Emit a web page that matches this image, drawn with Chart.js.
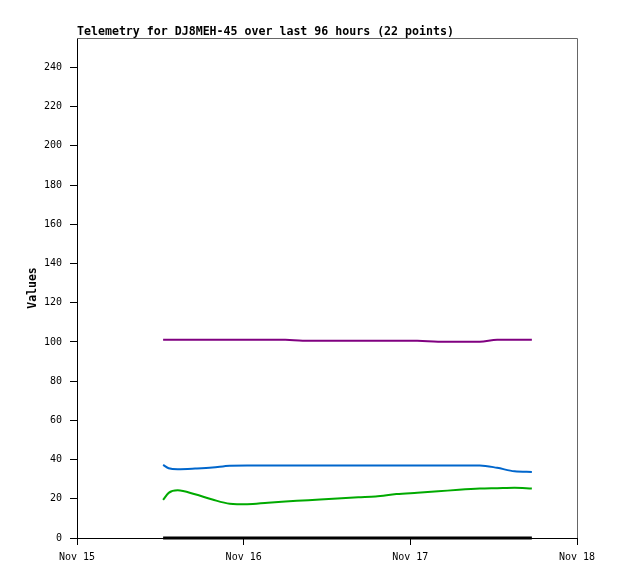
<!DOCTYPE html>
<html>
<head>
<meta charset="utf-8">
<script src="https://cdn.jsdelivr.net/npm/chart.js@4/dist/chart.umd.min.js"></script>
<style>
  html, body { margin: 0; padding: 0; background: #fff; }
  #wrap { width: 618px; height: 579px; }
</style>
</head>
<body>
<div id="wrap"><canvas id="telemetry"></canvas></div>
<script>
// hours since Nov 15 00:00
const hours = [12.4, 13.2, 14.5, 17.0, 19.5, 22.0, 24.5, 27.5, 30.0, 32.5, 35.0,
               37.5, 40.5, 43.0, 46.0, 49.0, 52.0, 55.0, 58.0, 60.5, 63.0, 65.5];

const purpleVals = [101.1, 101.1, 101.1, 101.1, 101.1, 101.1, 101.1, 101.1, 101.1, 100.6, 100.6,
                    100.6, 100.6, 100.6, 100.6, 100.6, 100.1, 100.1, 100.1, 101.1, 101.1, 101.1];
const blueVals   = [37.3, 35.6, 35.1, 35.4, 35.9, 36.9, 37.0, 37.0, 37.0, 37.0, 37.0,
                    37.0, 37.0, 37.0, 37.0, 37.0, 37.0, 37.0, 37.0, 35.8, 34.0, 33.7];
const greenVals  = [19.4, 23.0, 24.3, 22.3, 19.6, 17.5, 17.2, 18.0, 18.6, 19.1, 19.6,
                    20.2, 20.8, 21.2, 22.4, 23.1, 23.8, 24.6, 25.2, 25.4, 25.6, 25.2];
const blackVals  = [0, 0, 0, 0, 0, 0, 0, 0, 0, 0, 0,
                    0, 0, 0, 0, 0, 0, 0, 0, 0, 0, 0];

const xTicks = [0, 24, 48, 72];
const xTickLabels = ['Nov 15', 'Nov 16', 'Nov 17', 'Nov 18'];
const yTicks = [0, 20, 40, 60, 80, 100, 120, 140, 160, 180, 200, 220, 240];

const titleText = 'Telemetry for DJ8MEH-45 over last 96 hours (22 points)';
const yTitle = 'Values';

function series(vals) {
  return vals.map((v, i) => ({ x: hours[i], y: v }));
}

function line(vals, color, width) {
  return {
    data: series(vals),
    borderColor: color,
    backgroundColor: color,
    borderWidth: width || 2,
    pointRadius: 0,
    cubicInterpolationMode: 'monotone',
    clip: 4
  };
}

// frame (gray top/right) and the texts
const decor = {
  id: 'decor',
  beforeDatasetsDraw(chart) {
    const { ctx, chartArea: a } = chart;
    ctx.save();
    ctx.strokeStyle = '#666';
    ctx.lineWidth = 1;
    ctx.beginPath();
    ctx.moveTo(a.left, a.top + 0.5);
    ctx.lineTo(a.right + 0.5, a.top + 0.5);
    ctx.lineTo(a.right + 0.5, a.bottom);
    ctx.stroke();
    ctx.restore();
  },
  afterDraw(chart) {
    const { ctx, chartArea: a } = chart;
    ctx.save();
    ctx.fillStyle = '#000';
    ctx.font = 'bold 11.6px "DejaVu Sans Mono"';
    ctx.textAlign = 'left';
    ctx.textBaseline = 'alphabetic';
    ctx.fillText(titleText, a.left, 35);
    ctx.translate(36, (a.top + a.bottom) / 2);
    ctx.rotate(-Math.PI / 2);
    ctx.textAlign = 'center';
    ctx.font = 'bold 11.5px "DejaVu Sans Mono"';
    ctx.fillText(yTitle, 0, 0);
    ctx.restore();
  }
};

new Chart(document.getElementById('telemetry'), {
  type: 'line',
  data: {
    datasets: [
      line(purpleVals, '#800080'),
      line(blueVals, '#0066cc'),
      line(greenVals, '#00aa00'),
      line(blackVals, '#000000', 3)
    ]
  },
  options: {
    responsive: true,
    maintainAspectRatio: false,
    animation: false,
    layout: { padding: { top: 38, right: 41, left: 0, bottom: 0 } },
    plugins: {
      legend: { display: false },
      tooltip: { enabled: false }
    },
    scales: {
      x: {
        type: 'linear',
        min: 0,
        max: 72,
        afterBuildTicks: s => { s.ticks = xTicks.map(v => ({ value: v })); },
        afterFit: s => { s.height = 41; },
        ticks: {
          autoSkip: false,
          maxRotation: 0,
          padding: 6,
          color: '#000',
          font: { family: 'DejaVu Sans Mono', size: 10 },
          callback: v => xTickLabels[xTicks.indexOf(v)]
        },
        grid: { drawOnChartArea: false, tickLength: 7, color: '#000' },
        border: { color: '#000', width: 1 }
      },
      y: {
        min: 0,
        max: 255,
        afterBuildTicks: s => { s.ticks = yTicks.map(v => ({ value: v })); },
        afterFit: s => { s.width = 77; },
        ticks: {
          padding: 8,
          color: '#000',
          font: { family: 'DejaVu Sans Mono', size: 10 }
        },
        grid: { drawOnChartArea: false, tickLength: 7, color: '#000' },
        border: { color: '#000', width: 1 }
      }
    }
  },
  plugins: [decor]
});
</script>
</body>
</html>
